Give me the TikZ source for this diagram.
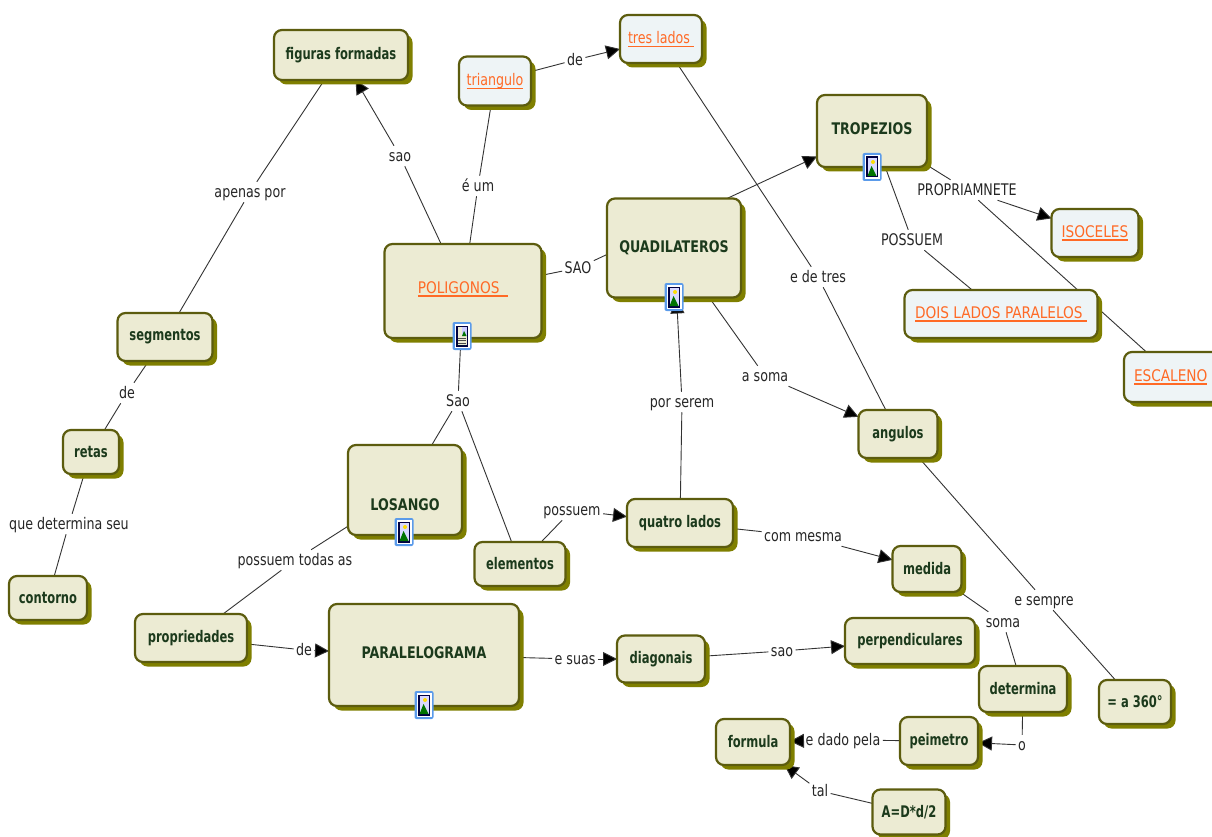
\documentclass[tikz,border=0pt]{standalone}
\usepackage{fontspec}
\setmainfont[FakeStretch=.88]{DejaVu Sans Condensed}
\newfontfamily\lowfam[FakeStretch=.80]{DejaVu Sans Condensed}
\newfontfamily\upfam[FakeStretch=.95]{DejaVu Sans Condensed}
\usetikzlibrary{arrows.meta,shadows}
\definecolor{boxline}{HTML}{5C5C0E}
\definecolor{boxshadow}{HTML}{7F7F00}
\definecolor{boxfill}{HTML}{ECEBD3}
\definecolor{linkfill}{HTML}{EEF4F6}
\definecolor{boxtext}{HTML}{1C3A1C}
\definecolor{linktext}{HTML}{FF6A26}
\definecolor{iconblue}{HTML}{5B9BEA}
\pgfdeclarelayer{edgelayer}
\pgfsetlayers{edgelayer,main}
\newsavebox{\lnkbox}
\newcommand{\lnk}[1]{\sbox{\lnkbox}{#1}\usebox{\lnkbox}\kern-\wd\lnkbox\rule[-3.5pt]{\wd\lnkbox}{1.3pt}}
\newcommand{\shifted}[2]{\smash{\raisebox{#1}{#2}}}
\newcommand{\iconart}[1]{%
  \fill[iconblue,rounded corners=2pt] ([xshift=-9.5pt,yshift=-14pt]#1.center) rectangle ([xshift=9.5pt,yshift=14pt]#1.center);
  \fill[white] ([xshift=-7.5pt,yshift=-12pt]#1.center) rectangle ([xshift=7.5pt,yshift=12pt]#1.center);
  \fill[black!75!blue] ([xshift=-6pt,yshift=-10.5pt]#1.center) rectangle ([xshift=6pt,yshift=10.5pt]#1.center);
  \fill[blue!15] ([xshift=-4.5pt,yshift=-9pt]#1.center) rectangle ([xshift=4.5pt,yshift=9pt]#1.center);
  \fill[yellow!80!orange] ([xshift=1pt,yshift=5pt]#1.center) circle (2pt);
  \fill[green!45!black] ([xshift=-4.5pt,yshift=-9pt]#1.center) -- ([xshift=-0.5pt,yshift=1pt]#1.center) -- ([xshift=4.5pt,yshift=-9pt]#1.center) -- cycle;
}
\tikzset{
  box/.style={rectangle,rounded corners=8pt,draw=boxline,line width=2.2pt,fill=boxfill,
    text=boxtext,font=\fontsize{16}{18}\lowfam\bfseries,inner sep=0pt,outer sep=0pt,
    drop shadow={shadow xshift=4.5pt,shadow yshift=-4.5pt,fill=boxshadow,opacity=1,draw=none}},
  bigbox/.style={box,font=\fontsize{16}{18}\selectfont\bfseries},
  linkbox/.style={box,fill=linkfill,text=linktext,font=\fontsize{16}{18}\selectfont},
  uplink/.style={box,fill=linkfill,text=linktext,font=\fontsize{16}{18}\upfam},
  plainbox/.style={box,text=linktext,font=\fontsize{16}{18}\upfam},
  lab/.style={font=\fontsize{16}{18}\selectfont,text=black!85,inner sep=2.5pt,outer sep=0pt,text height=13.5pt,text depth=2pt},
  conn/.style={draw=black!80,line width=0.9pt},
  arr/.style={conn,-{Triangle[length=14pt,width=14pt,fill=black]}},
  longarr/.style={conn,-{Triangle[length=16pt,width=14pt,fill=black]}},
  iconframe/.style={rectangle,minimum width=19pt,minimum height=28pt,inner sep=0pt,outer sep=0pt}
}
\begin{document}
\begin{tikzpicture}[x=1pt,y=-1pt]
\path[use as bounding box] (0,0) rectangle (1212,837);
\clip (0,0) rectangle (1212,837);
% concept boxes
\node[box,minimum width=134pt,minimum height=50pt] (fig) at (341,55) {figuras formadas};
\node[linkbox,minimum width=72pt,minimum height=49pt] (tri) at (495,81) {\lnk{triangulo}};
\node[linkbox,minimum width=82pt,minimum height=48pt] (tres) at (661,39) {\lnk{tres lados\ }};
\node[bigbox,minimum width=110pt,minimum height=72pt] (trop) at (872,131) {\shifted{-4pt}{TROPEZIOS}};
\node[uplink,minimum width=87pt,minimum height=48pt] (iso) at (1095,233) {\lnk{ISOCELES}};
\node[uplink,minimum width=193pt,minimum height=48pt] (dois) at (1001,314) {\lnk{DOIS LADOS PARALELOS\ }};
\node[uplink,minimum width=100pt,minimum height=50pt,text width=100pt,align=left] (esc) at (1174,377) {\hspace{10pt}\lnk{ESCALENO}};
\node[bigbox,minimum width=134pt,minimum height=99pt] (quad) at (674,248) {QUADILATEROS};
\node[plainbox,minimum width=157pt,minimum height=94pt] (pol) at (463,291) {\shifted{-2pt}{\lnk{POLIGONOS\ \ }}};
\node[box,minimum width=95pt,minimum height=48pt] (seg) at (165,337) {segmentos};
\node[box,minimum width=56pt,minimum height=44pt] (ret) at (91,452) {retas};
\node[box,minimum width=78pt,minimum height=44pt] (cont) at (48,598) {contorno};
\node[bigbox,minimum width=114pt,minimum height=90pt] (los) at (405,490) {\shifted{-20pt}{LOSANGO}};
\node[box,minimum width=91pt,minimum height=44pt] (ele) at (520,564) {elementos};
\node[box,minimum width=106pt,minimum height=48pt] (qua) at (680,523) {quatro lados};
\node[box,minimum width=79pt,minimum height=48pt] (ang) at (898,434) {angulos};
\node[box,minimum width=69pt,minimum height=46pt] (med) at (927,569) {medida};
\node[box,minimum width=112pt,minimum height=48pt] (pro) at (191,638) {propriedades};
\node[bigbox,minimum width=190pt,minimum height=102pt] (par) at (424,655) {\shifted{-3pt}{PARALELOGRAMA}};
\node[box,minimum width=88pt,minimum height=47pt] (dia) at (661,659) {diagonais};
\node[box,minimum width=130pt,minimum height=46pt] (per) at (910,641) {perpendiculares};
\node[box,minimum width=88pt,minimum height=46pt] (det) at (1023,689) {determina};
\node[box,minimum width=72pt,minimum height=44pt] (grau) at (1135,702) {= a 360°};
\node[box,minimum width=74pt,minimum height=46pt] (form) at (753,742) {formula};
\node[box,minimum width=78pt,minimum height=48pt] (pei) at (939,741) {peimetro};
\node[box,minimum width=73pt,minimum height=45pt] (form2) at (909,812) {A=D*d/2};
% linking phrases
\node[lab] (l1) at (400,156) {sao};
\node[lab] (l2) at (250,192) {apenas por};
\node[lab] (l3) at (478,186) {é um};
\node[lab] (l4) at (575,60) {de};
\node[lab] (l5) at (578,268) {SAO};
\node[lab] (l6) at (967,190) {PROPRIAMNETE};
\node[lab] (l7) at (912,240) {POSSUEM};
\node[lab] (l8) at (818,277) {e de tres};
\node[lab] (l9) at (765,376) {a soma};
\node[lab] (l10) at (458,401) {Sao};
\node[lab] (l11) at (682,402) {por serem};
\node[lab] (l12) at (127,393) {de};
\node[lab] (l13) at (69,524) {que determina seu};
\node[lab] (l14) at (295,560) {possuem todas as};
\node[lab] (l15) at (572,510) {possuem};
\node[lab] (l16) at (803,536) {com mesma};
\node[lab] (l17) at (1003,622) {soma};
\node[lab] (l18) at (1044,600) {e sempre};
\node[lab] (l19) at (304,650) {de};
\node[lab] (l20) at (575,659) {e suas};
\node[lab] (l21) at (782,651) {sao};
\node[lab] (l22) at (1022,745) {o};
\node[lab] (l23) at (843,740) {e dado pela};
\node[lab] (l24) at (820,791) {tal};
% image icons
\node[iconframe] (ip) at (462,336) {};
\node[iconframe] (iq) at (674,297) {};
\node[iconframe] (it) at (872,167) {};
\node[iconframe] (il) at (404,532) {};
\node[iconframe] (ia) at (424,705) {};
\iconart{ip}
\fill[boxfill] ([xshift=-4.5pt,yshift=-9pt]ip.center) rectangle ([xshift=4.5pt,yshift=9pt]ip.center);
\foreach \yy in {-7,-4.5,-2} \draw[black!70,line width=0.7pt] ([xshift=-4pt,yshift=\yy pt]ip.center) -- ([xshift=4pt,yshift=\yy pt]ip.center);
\fill[blue!20] ([xshift=0pt,yshift=0pt]ip.center) rectangle ([xshift=4.5pt,yshift=9pt]ip.center);
\fill[green!45!black] ([xshift=0pt,yshift=0pt]ip.center) -- ([xshift=2pt,yshift=5pt]ip.center) -- ([xshift=4.5pt,yshift=0pt]ip.center) -- cycle;
\iconart{iq}
\iconart{it}
\iconart{il}
\iconart{ia}
% connectors, behind the boxes
\begin{pgfonlayer}{edgelayer}
\fill[white] (0,0) rectangle (1212,837);
\draw[conn] (pol) -- (l1);
\draw[arr] (l1) -- (fig);
\draw[conn] (fig) -- (l2);
\draw[conn] (l2) -- (seg);
\draw[conn] (pol) -- (l3);
\draw[conn] (l3) -- (tri);
\draw[conn] (tri) -- (l4);
\draw[arr] (l4) -- (tres);
\draw[conn] (pol) -- (l5);
\draw[arr] (l5) -- (trop);
\draw[conn] (trop) -- (l6);
\draw[arr] (l6) -- (iso);
\draw[conn] (l6) -- (esc);
\draw[conn] (trop) -- (l7);
\draw[conn] (l7) -- (dois);
\draw[conn] (tres) -- (l8);
\draw[conn] (l8) -- (ang);
\draw[conn] (quad) -- (l9);
\draw[arr] (l9) -- (ang);
\draw[conn] (pol) -- (l10);
\draw[conn] (l10) -- (los);
\draw[conn] (l10) -- (ele);
\draw[conn] (qua) -- (l11);
\draw[longarr] (l11) -- (quad);
\draw[conn] (seg) -- (l12);
\draw[conn] (l12) -- (ret);
\draw[conn] (ret) -- (l13);
\draw[conn] (l13) -- (cont);
\draw[conn] (los) -- (l14);
\draw[conn] (l14) -- (pro);
\draw[conn] (ele) -- (l15);
\draw[arr] (l15) -- (qua);
\draw[conn] (qua) -- (l16);
\draw[arr] (l16) -- (med);
\draw[conn] (med) -- (l17);
\draw[conn] (l17) -- (det);
\draw[conn] (ang) -- (l18);
\draw[conn] (l18) -- (grau);
\draw[conn] (pro) -- (l19);
\draw[arr] (l19) -- (par);
\draw[conn] (par) -- (l20);
\draw[arr] (l20) -- (dia);
\draw[conn] (dia) -- (l21);
\draw[arr] (l21) -- (per);
\draw[conn] (det) -- (l22);
\draw[arr] (l22) -- (pei);
\draw[conn] (pei) -- (l23);
\draw[arr] (l23) -- (form);
\draw[conn] (form2) -- (l24);
\draw[arr] (l24) -- (form);
\end{pgfonlayer}
\end{tikzpicture}
\end{document}
